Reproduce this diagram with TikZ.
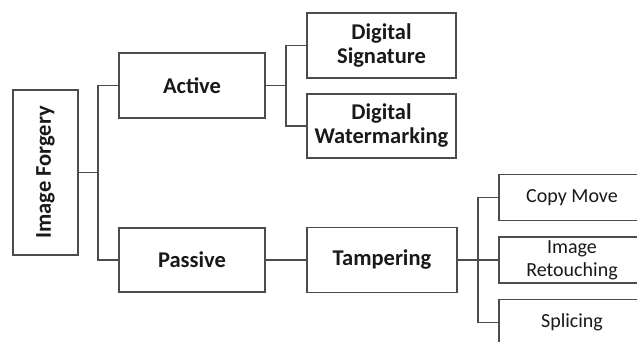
\documentclass[tikz,border=0pt]{standalone}
\usepackage{fontspec}
\setmainfont{Carlito}
\begin{document}
\begin{tikzpicture}[x=1pt,y=-1pt,
  box/.style={draw=black!70,line width=1.6pt,fill=white,text=black!90,inner sep=0pt,align=center,font=\fontsize{22.5}{24}\selectfont\bfseries},
  leaf/.style={box,font=\fontsize{20}{23}\selectfont},
  conn/.style={draw=black!70,line width=1.6pt}]
\useasboundingbox (0,0) rectangle (637,341);
\clip (0,0) rectangle (637,341);
\node[box,minimum width=65pt,minimum height=165pt] (forg) at (45.5,172.5) {\rotatebox{90}{Image Forgery}};
\node[box,minimum width=146pt,minimum height=65pt] (act) at (192,85.5) {Active};
\node[box,minimum width=146pt,minimum height=64pt] (pas) at (192,260) {Passive};
\node[box,minimum width=149pt,minimum height=65pt] (ds) at (381.5,45.5) {Digital\\Signature};
\node[box,minimum width=149pt,minimum height=64pt] (dw) at (381.5,126) {Digital\\Watermarking};
\node[box,minimum width=150pt,minimum height=65pt] (tam) at (382,260) {Tampering};
\node[leaf,minimum width=146pt,minimum height=46pt] (cm) at (572,197.5) {Copy Move};
\node[leaf,minimum width=146pt,minimum height=46pt] (ir) at (572,260) {Image\\Retouching};
\node[leaf,minimum width=146pt,minimum height=46pt] (sp) at (572,322.5) {Splicing};
\coordinate (j1) at (98,172.5);
\coordinate (j2) at (286,85.5);
\coordinate (j3) at (478,260);
\draw[conn] (forg.east) -- (j1);
\draw[conn] (act.west) -| (j1) |- (pas.west);
\draw[conn] (act.east) -- (j2);
\draw[conn] (ds.west) -| (j2) |- (dw.west);
\draw[conn] (pas.east) -- (tam.west);
\draw[conn] (tam.east) -- (ir.west);
\draw[conn] (cm.west) -| (j3) |- (sp.west);
\end{tikzpicture}
\end{document}
